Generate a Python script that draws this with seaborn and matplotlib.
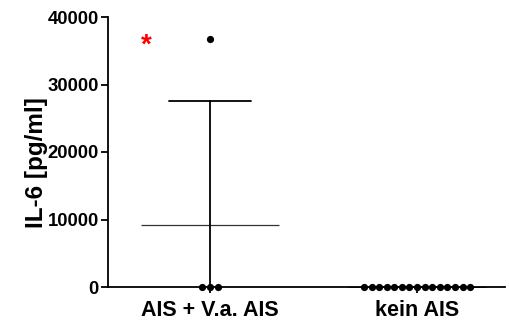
import numpy as np
import pandas as pd
import matplotlib
matplotlib.use("Agg")
import matplotlib.pyplot as plt
import seaborn as sns

# ---- data ----
categories = ["AIS + V.a. AIS", "kein AIS"]
values_ais = [36700, 40, 25, 30]
values_kein = [5, 12, 8, 20, 3, 15, 10, 6, 25, 9, 4, 18, 7, 11, 14]
y_ticks = [0, 10000, 20000, 30000, 40000]
y_label = "IL-6 [pg/ml]"
star_label = "*"

df = pd.DataFrame({
    "group": [categories[0]] * len(values_ais) + [categories[1]] * len(values_kein),
    "value": values_ais + values_kein,
})

sns.set_theme(style="ticks")
plt.rcParams["font.family"] = ["Liberation Sans", "DejaVu Sans"]
plt.rcParams["font.weight"] = "bold"
for k in ["text.color", "axes.labelcolor", "xtick.color", "ytick.color",
          "axes.edgecolor"]:
    plt.rcParams[k] = "black"

fig = plt.figure(figsize=(5.10, 3.22), dpi=100)
ax = fig.add_axes([108 / 510, 1 - 287 / 322, 397 / 510, 270 / 322])

sns.pointplot(data=df, x="group", y="value", order=categories,
              errorbar="sd", capsize=0.4, linestyle="none",
              marker="_", markersize=99, markeredgewidth=0.9,
              color="#333333", err_kws={"linewidth": 1.3, "color": "black"},
              ax=ax, zorder=2)

sns.swarmplot(data=df, x="group", y="value", order=categories,
              color="black", size=5.2, linewidth=0, ax=ax, zorder=3)
for coll in ax.collections:
    coll.set_clip_on(False)

ax.set_xlim(-0.493, 1.425)
ax.set_ylim(0, 40000)
ax.set_yticks(y_ticks)
ax.set_yticklabels([str(t) for t in y_ticks], fontsize=13.3, fontweight="bold")
ax.set_xticks([0, 1])
ax.set_xticklabels(categories, fontsize=15.5, fontweight="bold")
ax.set_xlabel("")
ax.set_ylabel(y_label, fontsize=17.5, fontweight="bold")
ax.yaxis.set_label_coords(-0.15, 0.46)

for side in ["top", "right"]:
    ax.spines[side].set_visible(False)
for side in ["left", "bottom"]:
    ax.spines[side].set_linewidth(1.3)
    ax.spines[side].set_color("black")
ax.tick_params(axis="y", direction="out", length=5, width=1.3, pad=1.5)
ax.tick_params(axis="x", direction="out", length=4.5, width=1.3, pad=5)

ax.text(-0.309, 34750, star_label, color="red", fontsize=20, fontweight="bold",
        ha="center", va="baseline")

fig.savefig("out.png", dpi=100)
